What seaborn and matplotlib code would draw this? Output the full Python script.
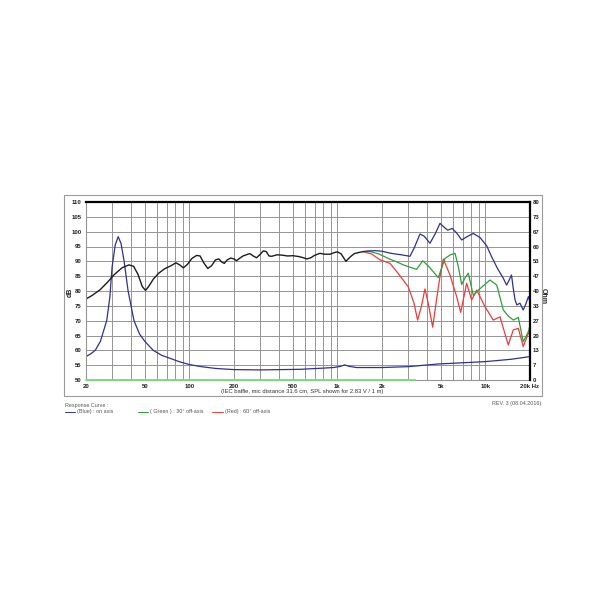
import matplotlib
matplotlib.use("Agg")
import matplotlib.pyplot as plt
from matplotlib.patches import Rectangle
from matplotlib.lines import Line2D
import seaborn as sns

# Shared SPL (the three curves coincide below ~1.5 kHz)
lowFreq = [20, 22, 25, 28, 31, 35, 39, 42, 45, 48, 50.5, 53, 57, 62, 68, 75, 81, 86, 91,
           97, 104, 112, 118, 125, 133, 141, 150, 158, 165, 172, 180, 190, 200, 208, 218,
           230, 245, 256, 270, 284, 300, 315, 330, 345, 360, 390, 420, 460, 500, 550, 590,
           620, 660, 700, 760, 820, 890, 960, 1000, 1060, 1140, 1220, 1300, 1400, 1500]
lowSpl = [77.3, 78.5, 80.5, 83.0, 85.5, 87.8, 88.8, 88.3, 85.5, 81.5, 80.2, 81.5, 84.0, 86.0,
          87.5, 88.5, 89.5, 88.8, 87.8, 89.0, 91.0, 92.0, 91.8, 89.5, 87.6, 88.5, 90.5, 90.8,
          89.8, 89.3, 90.5, 91.1, 90.8, 90.2, 91.0, 91.8, 92.3, 92.6, 91.8, 91.2, 92.3, 93.5,
          93.3, 91.8, 91.7, 92.2, 92.1, 91.8, 91.9, 91.6, 91.2, 90.8, 91.2, 92.0, 92.7, 92.4,
          92.4, 93.0, 93.2, 92.5, 90.0, 91.5, 92.6, 93.0, 93.3]

# On axis (Blue)
blueFreq = [1500, 1600, 1800, 2000, 2300, 2700, 3090, 3300, 3610, 3850, 4220, 4600, 4930,
            5250, 5560, 5970, 6400, 6910, 7500, 8280, 9200, 10200, 11000, 12000, 13200,
            13900, 14400, 15000, 15400, 15850, 16300, 17100, 18000, 18700, 19500, 20000]
blueSpl = [93.3, 93.5, 93.6, 93.4, 92.7, 92.2, 91.7, 94.5, 99.2, 98.5, 96.1, 99.5, 102.8,
           101.5, 100.5, 101.1, 99.5, 97.2, 98.3, 99.4, 98.0, 95.2, 91.6, 87.8, 84.3, 82.0,
           83.5, 85.4, 81.0, 77.0, 75.3, 75.9, 73.6, 75.5, 78.1, 76.4]

# 30 deg off axis (Green)
greenFreq = [1500, 1660, 1900, 2270, 2600, 2790, 3100, 3430, 3770, 4100, 4440, 4800, 5330,
             5800, 6230, 6560, 6910, 7300, 7660, 8280, 8950, 9800, 10740, 11920, 13200,
             14300, 15420, 16680, 18000, 19500, 20000]
greenSpl = [93.3, 93.3, 92.5, 90.7, 89.5, 88.8, 88.0, 87.3, 90.2, 88.5, 86.5, 84.5, 91.0,
            92.2, 92.7, 88.2, 82.2, 84.5, 86.0, 78.5, 80.3, 82.0, 83.7, 82.0, 73.6, 71.5,
            70.2, 71.1, 62.9, 66.3, 68.5]

# 60 deg off axis (Red)
redFreq = [1500, 1700, 1940, 2270, 2620, 3010, 3290, 3480, 3700, 3900, 4100, 4400, 4700,
           4930, 5190, 5760, 6390, 6800, 7470, 8070, 8730, 9930, 11300, 12540, 14260,
           15420, 16680, 18000, 19500, 20000]
redSpl = [93.2, 92.5, 90.5, 89.3, 85.4, 81.4, 75.9, 70.2, 75.0, 80.7, 76.0, 67.8, 78.0,
          84.9, 90.8, 85.4, 78.1, 72.8, 82.6, 77.0, 80.3, 74.7, 70.2, 71.3, 61.8, 66.9,
          67.4, 61.3, 65.7, 66.9]

# Impedance (Blue), drawn on the dB scale
impFreq = [20, 21.5, 23.1, 25, 27.6, 29, 30, 31.5, 33, 34.5, 36.2, 38.5, 42.2, 46, 50,
           56.9, 65, 75, 85, 100, 120, 150, 200, 300, 560, 800, 940, 1050, 1120, 1200,
           1350, 2000, 3000, 4800, 7000, 10000, 15000, 20000]
impDb = [57.9, 58.8, 60.0, 63.0, 70.0, 78.0, 88.0, 95.5, 98.3, 96.0, 90.0, 80.0, 70.0,
         65.5, 63.0, 60.0, 58.3, 57.2, 56.2, 55.2, 54.5, 53.9, 53.5, 53.4, 53.6, 54.0,
         54.2, 54.6, 55.1, 54.6, 54.2, 54.2, 54.5, 55.4, 55.8, 56.2, 57.0, 57.9]

# Light green trace sitting on the 50 dB line
flatFreq = [20, 3340]
flatDb = [50, 50]

xTicks = [20, 50, 100, 200, 500, 1000, 2000, 5000, 10000, 20000]
xTickLabels = ['20', '50', '100', '200', '500', '1k', '2k', '5k', '10k', '20k Hz']
dbTicks = [50, 55, 60, 65, 70, 75, 80, 85, 90, 95, 100, 105, 110]
ohmLabels = ['0', '7', '13', '20', '27', '33', '40', '47', '53', '60', '67', '73', '80']

NAVY = '#2e3192'
GREEN = '#2f9e3a'
RED = '#ec3b3b'
GRID = '#949494'

sns.set_style("white")
plt.rcParams['font.family'] = ['Liberation Sans', 'DejaVu Sans']

fig = plt.figure(figsize=(6.1, 6.1), dpi=100)
ax = fig.add_axes([86 / 610, 1 - 380 / 610, 444 / 610, 178 / 610])

sns.lineplot(x=impFreq, y=impDb, ax=ax, color=NAVY, linewidth=0.9)
sns.lineplot(x=redFreq, y=redSpl, ax=ax, color=RED, linewidth=0.9)
sns.lineplot(x=greenFreq, y=greenSpl, ax=ax, color=GREEN, linewidth=0.9)
sns.lineplot(x=blueFreq, y=blueSpl, ax=ax, color=NAVY, linewidth=0.9)
sns.lineplot(x=lowFreq, y=lowSpl, ax=ax, color='#1c1c1c', linewidth=1.0)
sns.lineplot(x=flatFreq, y=flatDb, ax=ax, color='#79dd79', linewidth=1.3)
ax.lines[-1].set_zorder(6)
ax.lines[-1].set_clip_on(False)

ax.set_xscale('log')
ax.set_xlim(20, 20000)
ax.set_ylim(50, 110)
ax.set_xticks(xTicks)
ax.set_xticklabels(xTickLabels)
minor = [m * d for d in (10, 100, 1000) for m in range(2, 10)]
ax.set_xticks([f for f in minor if 20 <= f <= 20000], minor=True)
ax.set_xticklabels([], minor=True)
ax.set_yticks(dbTicks)
ax.grid(True, which='both', color=GRID, linewidth=0.7)
ax.tick_params(which='both', length=0, labelsize=4.3, pad=3, colors='#222222')
for lab in ax.get_xticklabels() + ax.get_yticklabels():
    lab.set_fontweight('bold')
ax.set_xlabel('')
ax.set_ylabel('')
for side in ('left', 'bottom'):
    ax.spines[side].set_color(GRID)
    ax.spines[side].set_linewidth(0.8)
ax.spines['top'].set_color('black')
ax.spines['top'].set_linewidth(1.6)
ax.spines['right'].set_visible(False)

ax2 = ax.twinx()
ax2.set_ylim(0, 80)
ax2.set_yticks([i * 80 / 12 for i in range(13)])
ax2.set_yticklabels(ohmLabels)
ax2.tick_params(length=0, labelsize=4.3, pad=2, colors='#222222')
for lab in ax2.get_yticklabels():
    lab.set_fontweight('bold')
for side in ('left', 'bottom', 'top'):
    ax2.spines[side].set_visible(False)
ax2.spines['right'].set_color('black')
ax2.spines['right'].set_linewidth(1.6)

fig.text(70 / 610, 1 - 292 / 610, 'dB', rotation=90, fontsize=5, fontweight='bold',
         ha='center', va='center', color='#222222')
fig.text(543.5 / 610, 1 - 296 / 610, 'Ohm', rotation=270, fontsize=5, fontweight='bold',
         ha='center', va='center', color='#222222')
fig.text(302 / 610, 1 - 391 / 610,
         '(IEC baffle, mic distance 31.6 cm, SPL shown for 2.83 V / 1 m)',
         fontsize=4.2, ha='center', va='center', color='#333333')

# outer frame
fig.add_artist(Rectangle((64 / 610, 1 - 396 / 610), 478 / 610, 201 / 610,
                         transform=fig.transFigure, fill=False,
                         edgecolor='#9a9a9a', linewidth=0.8))

# legend / footer
fig.text(65 / 610, 1 - 405 / 610, 'Response Curve :', fontsize=3.9,
         ha='left', va='center', color='#555555')
fig.text(541 / 610, 1 - 404 / 610, 'REV. 3 (08.04.2016)', fontsize=3.9,
         ha='right', va='center', color='#555555')
legendItems = [(65, 75, 77, NAVY, '(Blue) : on axis'),
               (138, 148, 150, GREEN, '( Green ) : 30\u00b0 off-axis'),
               (212, 223, 225, RED, '(Red) : 60\u00b0 off-axis')]
yLeg = 1 - 412 / 610
for x0, x1, xt, col, txt in legendItems:
    fig.add_artist(Line2D([x0 / 610, x1 / 610], [yLeg, yLeg], transform=fig.transFigure,
                          color=col, linewidth=0.7))
    fig.text(xt / 610, yLeg, txt, fontsize=3.9, ha='left', va='center', color='#555555')

fig.savefig('out.png', dpi=100)
